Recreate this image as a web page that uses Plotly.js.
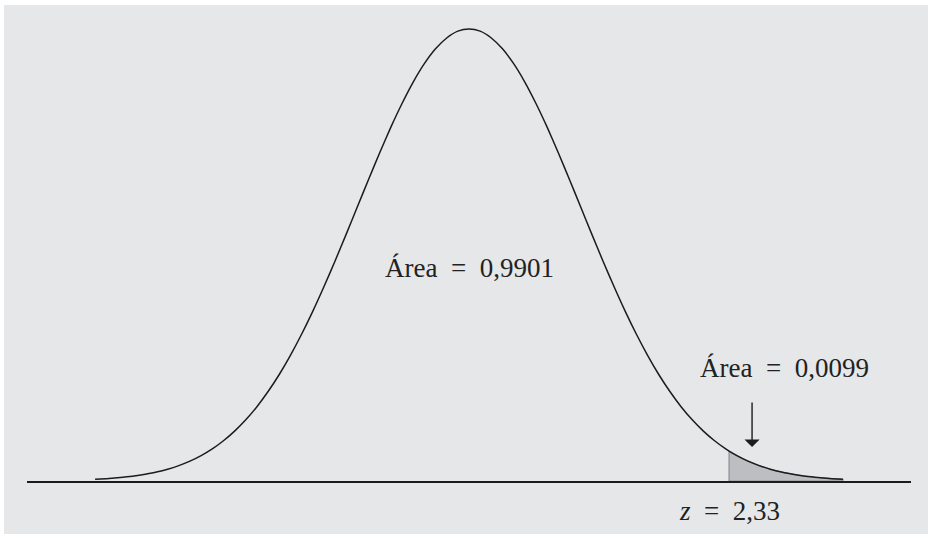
<!DOCTYPE html>
<html>
<head>
<meta charset="utf-8">
<script src="https://cdn.plot.ly/plotly-3.0.1.min.js"></script>
<style>
  html, body { margin: 0; padding: 0; background: #ffffff; }
  #chart { position: absolute; left: 4px; top: 5px; width: 924px; height: 529px; }
</style>
</head>
<body>
<div id="chart"></div>
<script>
// Standard normal density, tabulated (z, phi(z))
const zValues = [
  -3.35, -3.3, -3.2, -3.1, -3.0, -2.9, -2.8, -2.7, -2.6, -2.5, -2.4, -2.3, -2.2, -2.1, -2.0,
  -1.9, -1.8, -1.7, -1.6, -1.5, -1.4, -1.3, -1.2, -1.1, -1.0, -0.9, -0.8, -0.7, -0.6, -0.5,
  -0.4, -0.3, -0.2, -0.1, 0.0, 0.1, 0.2, 0.3, 0.4, 0.5, 0.6, 0.7, 0.8, 0.9, 1.0,
  1.1, 1.2, 1.3, 1.4, 1.5, 1.6, 1.7, 1.8, 1.9, 2.0, 2.1, 2.2, 2.3, 2.33, 2.4,
  2.5, 2.6, 2.7, 2.8, 2.9, 3.0, 3.1, 3.2, 3.3, 3.35
];
const density = [
  0.00146, 0.0017, 0.0024, 0.0033, 0.0044, 0.0060, 0.0079, 0.0104, 0.0136, 0.0175, 0.0224, 0.0283, 0.0355, 0.0440, 0.0540,
  0.0656, 0.0790, 0.0940, 0.1109, 0.1295, 0.1497, 0.1714, 0.1942, 0.2179, 0.2420, 0.2661, 0.2897, 0.3123, 0.3332, 0.3521,
  0.3683, 0.3814, 0.3910, 0.3970, 0.3989, 0.3970, 0.3910, 0.3814, 0.3683, 0.3521, 0.3332, 0.3123, 0.2897, 0.2661, 0.2420,
  0.2179, 0.1942, 0.1714, 0.1497, 0.1295, 0.1109, 0.0940, 0.0790, 0.0656, 0.0540, 0.0440, 0.0355, 0.0283, 0.0264, 0.0224,
  0.0175, 0.0136, 0.0104, 0.0079, 0.0060, 0.0044, 0.0033, 0.0024, 0.0017, 0.00146
];

const zCritical = 2.33;
const zMean = 0.0;
const areaLeft = "0,9901";
const areaRight = "0,0099";
const zLabel = "2,33";

// Upper tail beyond the critical value, closed down to the baseline
const tailX = [], tailY = [];
zValues.forEach((z, i) => { if (z >= zCritical) { tailX.push(z); tailY.push(density[i]); } });
const tailPolyX = [zCritical].concat(tailX, [tailX[tailX.length - 1], zCritical]);
const tailPolyY = [0].concat(tailY, [0, 0]);

const serif = "Liberation Serif, 'Times New Roman', serif";
const textFont = { family: serif, size: 27, color: "#222222" };
const eq = "\u2002=\u2002";

const traces = [
  {
    x: tailPolyX, y: tailPolyY, type: "scatter", mode: "lines",
    fill: "toself", fillcolor: "#bdbec1",
    line: { color: "#8c8d90", width: 1.2 },
    hoverinfo: "skip", showlegend: false
  },
  {
    x: zValues, y: density, type: "scatter", mode: "lines",
    line: { color: "#1c1c1c", width: 1.5, shape: "spline", smoothing: 0.6 },
    hoverinfo: "skip", showlegend: false
  }
];

const layout = {
  width: 924, height: 529,
  margin: { l: 23, r: 17, t: 0, b: 53 },
  paper_bgcolor: "#e6e7e8",
  plot_bgcolor: "#e6e7e8",
  showlegend: false,
  xaxis: {
    range: [-3.96, 3.96], showgrid: false, zeroline: false,
    showticklabels: false, ticks: "", showline: true,
    linecolor: "#1c1c1c", linewidth: 1.5, fixedrange: true
  },
  yaxis: {
    range: [0, 0.4201], showgrid: false, zeroline: false,
    showticklabels: false, ticks: "", showline: false, fixedrange: true
  },
  annotations: [
    {
      x: zMean, y: 0.188, xref: "x", yref: "y",
      text: "Área" + eq + areaLeft, showarrow: false,
      font: textFont, xanchor: "center", yanchor: "middle"
    },
    {
      x: 2.83, y: 0.100, xref: "x", yref: "y",
      text: "Área" + eq + areaRight, showarrow: false,
      font: textFont, xanchor: "center", yanchor: "middle"
    },
    {
      x: 2.536, y: 0.030, xref: "x", yref: "y",
      text: "", showarrow: true, ax: 0, ay: -46,
      arrowhead: 1, arrowsize: 1.8, arrowwidth: 1.4, arrowcolor: "#1c1c1c"
    },
    {
      x: zCritical, y: -0.063, xref: "x", yref: "paper",
      text: "<i>z</i>" + eq + zLabel, showarrow: false,
      font: textFont, xanchor: "center", yanchor: "middle"
    }
  ]
};

Plotly.newPlot("chart", traces, layout, { displayModeBar: false, staticPlot: true });
</script>
</body>
</html>
